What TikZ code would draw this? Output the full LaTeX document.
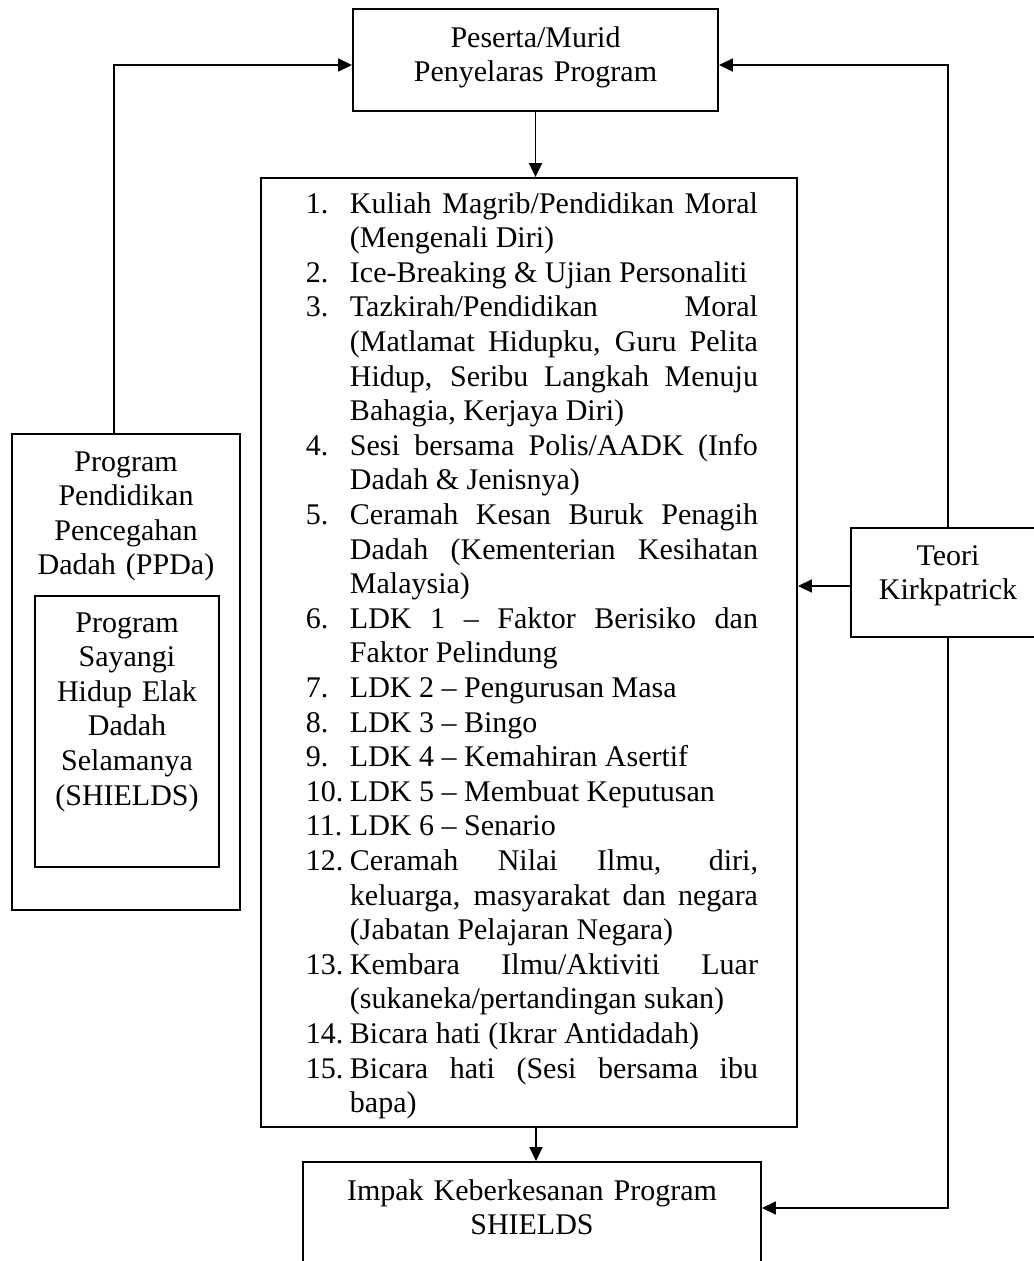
\documentclass[tikz,border=0pt]{standalone}
\usepackage{fontspec}
\setmainfont{Liberation Serif}
\usetikzlibrary{arrows.meta}
\newcommand\JL[2]{\noindent\makebox[17.6pt][l]{#1}\hbox to 163.2pt{#2}\par}
\newcommand\RL[2]{\noindent\makebox[17.6pt][l]{#1}\hbox to 163.2pt{#2\hfil}\par}
\hbadness=10000
\tikzset{
  box/.style={draw, line width=0.75pt, inner sep=0pt, anchor=base,
    font={\fontsize{12}{13.84}\selectfont}},
  ctext/.style={align=center},
  conn/.style={line width=0.65pt, -{Triangle[length=5.6pt,width=5.2pt]}}
}
\begin{document}
\begin{tikzpicture}[x=0.4pt, y=-0.4pt]
\useasboundingbox (0,0) rectangle (1034,1261);
\clip (0,0) rectangle (1034,1261);

\node[box, ctext, text width=140pt, minimum width=146pt, text height=15.2pt, text depth=25.6pt]
  (top) at (535.5,47) {Peserta/Murid\\Penyelaras Program};

\node[box, minimum width=214.4pt, text height=14pt, text depth=365.6pt]
  (main) at (529,213) {\hspace*{2.4pt}\begin{minipage}[t]{180.8pt}
\parindent=0pt\parskip=0pt
\JL{1.}{Kuliah Magrib/Pendidikan Moral}
\RL{}{(Mengenali Diri)}
\RL{2.}{Ice-Breaking \& Ujian Personaliti}
\JL{3.}{Tazkirah/Pendidikan Moral}
\JL{}{(Matlamat Hidupku, Guru Pelita}
\JL{}{Hidup, Seribu Langkah Menuju}
\RL{}{Bahagia, Kerjaya Diri)}
\JL{4.}{Sesi bersama Polis/AADK (Info}
\RL{}{Dadah \& Jenisnya)}
\JL{5.}{Ceramah Kesan Buruk Penagih}
\JL{}{Dadah (Kementerian Kesihatan}
\RL{}{Malaysia)}
\JL{6.}{LDK 1 – Faktor Berisiko dan}
\RL{}{Faktor Pelindung}
\RL{7.}{LDK 2 – Pengurusan Masa}
\RL{8.}{LDK 3 – Bingo}
\RL{9.}{LDK 4 – Kemahiran Asertif}
\RL{10.}{LDK 5 – Membuat Keputusan}
\RL{11.}{LDK 6 – Senario}
\JL{12.}{Ceramah Nilai Ilmu, diri,}
\JL{}{keluarga, masyarakat dan negara}
\RL{}{(Jabatan Pelajaran Negara)}
\JL{13.}{Kembara Ilmu/Aktiviti Luar}
\RL{}{(sukaneka/pertandingan sukan)}
\RL{14.}{Bicara hati (Ikrar Antidadah)}
\JL{15.}{Bicara hati (Sesi bersama ibu}
\RL{}{bapa)}
\end{minipage}};

\node[box, ctext, text width=88pt, minimum width=91.2pt, text height=14.8pt, text depth=175.6pt]
  (lbox) at (126,471) {Program\\Pendidikan\\Pencegahan\\Dadah (PPDa)};
\node[box, ctext, text width=72pt, minimum width=73.6pt, text height=14.4pt, text depth=94pt]
  (ibox) at (127,632) {Program\\Sayangi\\Hidup Elak\\Dadah\\Selamanya\\(SHIELDS)};

\node[box, ctext, text width=75pt, minimum width=77.6pt, text height=14.8pt, text depth=28.8pt]
  (teori) at (948,565) {Teori\\Kirkpatrick};

\node[box, ctext, text width=180pt, minimum width=183.2pt, text height=15.2pt, text depth=40pt]
  (bot) at (532,1200) {Impak Keberkesanan Program\\SHIELDS};

\coordinate (yTop) at (0,65);
\coordinate (xL) at (114,0);
\coordinate (yT) at (0,586);
\coordinate (yB) at (0,1208);
\coordinate (xM) at (536,0);

\draw[conn] (lbox.north -| xL) |- (top.west |- yTop);
\draw[conn] (teori.north) |- (top.east |- yTop);
\draw[conn] (top.south) -- (top.south |- main.north);
\draw[conn] (teori.west |- yT) -- (main.east |- yT);
\draw[conn] (teori.south) |- (bot.east |- yB);
\draw[conn] (main.south -| xM) -- (bot.north -| xM);
\end{tikzpicture}
\end{document}
